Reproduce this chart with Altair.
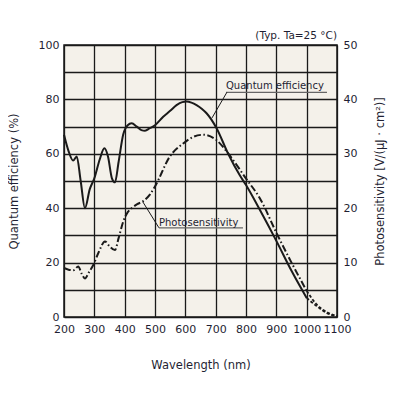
import altair as alt
import pandas as pd

# Quantum efficiency (%) - solid part
qe_wl = [200, 215, 230, 242, 255, 269, 285, 300, 318, 333, 345, 358, 368, 380, 395, 410, 423, 440, 455, 467,
         483, 500, 527, 550, 571, 590, 604, 620, 637, 655, 670, 703, 740, 780, 800, 850, 900, 950, 1000]
qe_val = [67, 61, 57.5, 59, 50, 40, 47, 51, 58, 62, 59, 51, 49.5, 57, 67, 70.5, 71.2, 70, 68.7, 68.5,
          69.4, 70.5, 73.6, 75.8, 77.9, 79, 79.2, 78.8, 77.9, 76.5, 74.9, 69.4, 60.3, 52, 48.5, 38.5, 28, 17, 7]
qe_tail_wl = [1000, 1033, 1066, 1100]
qe_tail_val = [7, 4, 1.5, 0.2]

# Photosensitivity V/(uJ cm2) - dash-dot part
ps_wl = [200, 215, 231, 247, 258, 269, 283, 297, 315, 335, 350, 368, 380, 395, 407, 423, 440, 461, 483, 500,
         549, 593, 626, 659, 703, 740, 802, 846, 900, 950, 1000]
ps_val = [9, 8.7, 8.6, 9.3, 8, 7.1, 8.3, 9.6, 12, 13.9, 13, 12.3, 14.5, 17.5, 19, 20, 20.7, 21.3, 22.5, 24,
          29.5, 31.9, 33.1, 33.5, 32.5, 30.15, 25.3, 21.8, 15.5, 10, 4.8]
ps_tail_wl = [1000, 1033, 1066, 1100]
ps_tail_val = [4.8, 2.3, 0.9, 0.2]

x_ticks = list(range(200, 1101, 100))
y_grid = list(range(0, 101, 10))
y2_ticks = list(range(0, 51, 10))

FONT = "DejaVu Sans"
TXT = "#1f1f33"
INK = "#1a1a1a"

qe_df = pd.DataFrame({"wl": qe_wl, "v": qe_val})
qe_tail_df = pd.DataFrame({"wl": qe_tail_wl, "v": qe_tail_val})
ps_df = pd.DataFrame({"wl": ps_wl, "v": ps_val})
ps_tail_df = pd.DataFrame({"wl": ps_tail_wl, "v": ps_tail_val})

xs = alt.Scale(domain=[200, 1100], nice=False, zero=False)
ys = alt.Scale(domain=[0, 100], nice=False)
ys2 = alt.Scale(domain=[0, 50], nice=False)

x_axis = alt.Axis(values=x_ticks, title="Wavelength (nm)", format="d", grid=True, gridColor=INK,
                  gridWidth=1.3, gridOpacity=1, ticks=False, domain=False, labelPadding=6,
                  labelOverlap=False, labelFlush=False, labelFont=FONT, labelFontSize=11,
                  labelColor=TXT, titleFont=FONT, titleFontSize=11.5, titleFontWeight="normal",
                  titleColor=TXT, titlePadding=25)
y_axis = alt.Axis(values=y_grid, title="Quantum efficiency (%)", grid=True, gridColor=INK, gridWidth=1.3,
                  gridOpacity=1, ticks=False, domain=False, labelPadding=5, labelOverlap=False,
                  labelFlush=False,
                  labelExpr="datum.value % 20 == 0 ? datum.label : ''",
                  labelFont=FONT, labelFontSize=11, labelColor=TXT, titleFont=FONT, titleFontSize=11.5,
                  titleFontWeight="normal", titleColor=TXT, titlePadding=19)
y2_axis = alt.Axis(values=y2_ticks, orient="right", title="Photosensitivity [V/(μJ · cm²)]", grid=False,
                   ticks=False, domain=False, labelPadding=6, labelOverlap=False, labelFlush=False,
                   labelFont=FONT, labelFontSize=11, labelColor=TXT,
                   titleFont=FONT, titleFontSize=11.5, titleFontWeight="normal", titleColor=TXT,
                   titleAngle=270, titleBaseline="bottom", titlePadding=29)


def X():
    return alt.X("wl:Q", scale=xs, axis=x_axis)


def Y():
    return alt.Y("v:Q", scale=ys, axis=y_axis)


def Y2():
    return alt.Y("v:Q", scale=ys2, axis=y2_axis)


qe_line = alt.Chart(qe_df).mark_line(color=INK, strokeWidth=2, interpolate="monotone").encode(x=X(), y=Y())
qe_tail = alt.Chart(qe_tail_df).mark_line(color=INK, strokeWidth=1.8, strokeDash=[3, 2],
                                          interpolate="monotone").encode(x=X(), y=Y())

# annotations (in data coordinates of the left axis)
ann_txt = pd.DataFrame({"wl": [734, 513], "v": [84.9, 34.6], "t": ["Quantum efficiency", "Photosensitivity"]})
ann_ul = pd.DataFrame({"wl": [734, 513], "wl2": [1067, 790], "v": [82.6, 32.8]})
ann_lead = pd.DataFrame({"wl": [737, 513], "v": [82.6, 32.8], "wl2": [688, 460], "v2": [73.2, 42.3]})
typ_df = pd.DataFrame({"wl": [1100], "v": [103.4], "t": ["(Typ. Ta=25 °C)"]})

texts = alt.Chart(ann_txt).mark_text(align="left", baseline="middle", font=FONT, fontSize=10,
                                     color=TXT).encode(x=X(), y=Y(), text="t:N")
uls = alt.Chart(ann_ul).mark_rule(color="#666666", strokeWidth=1.3).encode(x=X(), x2="wl2:Q", y=Y())
leads = alt.Chart(ann_lead).mark_rule(color=INK, strokeWidth=1).encode(x=X(), x2="wl2:Q", y=Y(), y2="v2:Q")
typ = alt.Chart(typ_df).mark_text(align="right", baseline="middle", font=FONT, fontSize=10.5,
                                  color=TXT, clip=False).encode(x=X(), y=Y(), text="t:N")

left = alt.layer(qe_line, qe_tail, uls, leads, texts, typ)

ps_line = alt.Chart(ps_df).mark_line(color=INK, strokeWidth=2, strokeDash=[7, 2.5, 1.5, 2.5],
                                     interpolate="monotone").encode(x=X(), y=Y2())
ps_tail = alt.Chart(ps_tail_df).mark_line(color=INK, strokeWidth=1.8, strokeDash=[3, 2],
                                          interpolate="monotone").encode(x=X(), y=Y2())
right = alt.layer(ps_line, ps_tail)

chart = alt.layer(left, right).resolve_scale(y="independent").properties(
    width=273, height=272,
    autosize=alt.AutoSizeParams(type="none"),
    padding={"left": 56, "top": 37, "right": 51, "bottom": 60},
    background="white",
).configure_view(fill="#f4f1ea", stroke=INK, strokeWidth=1.5)

chart.save("out.html", embed_options={"renderer": "svg", "actions": False})
